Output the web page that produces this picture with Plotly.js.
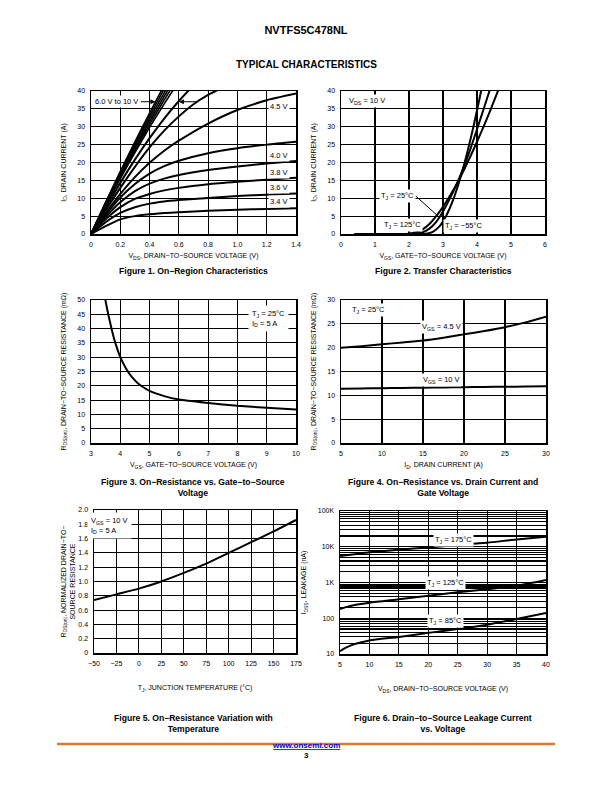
<!DOCTYPE html>
<html><head><meta charset="utf-8">
<script src="https://cdn.plot.ly/plotly-3.0.1.min.js"></script>
<style>html,body{margin:0;padding:0;background:#fff;}#chart{width:612px;height:792px;}</style>
</head><body><div id="chart"></div>
<script>
// ---------- Figure 1: On-Region Characteristics ----------
const f1Vds = [0, 0.1, 0.2, 0.3, 0.4, 0.5, 0.6, 0.8, 1.0, 1.2, 1.4];
const f1Id_3v4 = [0, 2.2, 4.1, 5.0, 5.5, 5.9, 6.1, 6.5, 6.8, 7.0, 7.2];
const f1Id_3v6 = [0, 3.3, 5.9, 7.5, 8.5, 9.1, 9.5, 10.1, 10.6, 11.0, 11.3];
const f1Id_3v8 = [0, 4.1, 7.5, 9.8, 11.2, 12.2, 12.9, 13.9, 14.6, 15.2, 15.7];
const f1Id_4v0 = [0, 4.8, 8.9, 12.0, 14.1, 15.5, 16.5, 17.9, 18.9, 19.7, 20.4];
const f1Id_4v2 = [0, 5.4, 10.2, 14.0, 16.9, 19.0, 20.5, 22.6, 24.0, 25.0, 25.8];
const f1Id_4v5 = [0, 5.8, 11.2, 15.9, 19.9, 23.3, 26.1, 30.9, 34.7, 37.4, 39.3];
const f1VdsG = [0, 0.1, 0.2, 0.3, 0.4, 0.5, 0.6, 0.7, 0.8, 0.9];
const f1Id_G = [0, 6.6, 12.9, 18.8, 24.2, 28.9, 32.9, 36.3, 38.9, 41.0];
const f1VdsH = [0, 0.1, 0.2, 0.3, 0.4, 0.5, 0.6, 0.7];
const f1Id_H = [0, 7.3, 14.3, 20.8, 26.8, 32.3, 37.2, 41.6];
const f1VdsS = [0, 0.1, 0.2, 0.3, 0.4, 0.5, 0.6];
const f1Id_6v0 = [0, 7.9, 15.5, 22.8, 29.8, 36.4, 42.7];
const f1Id_6v5 = [0, 8.1, 15.9, 23.4, 30.6, 37.5, 44.0];
const f1Id_7v0 = [0, 8.3, 16.3, 24.0, 31.4, 38.5, 45.3];
const f1Id_8v0 = [0, 8.5, 16.7, 24.6, 32.2, 39.5, 46.5];
const f1Id_9v0 = [0, 8.7, 17.1, 25.2, 33.0, 40.6, 47.8];
const f1Id_10v = [0, 8.9, 17.5, 25.8, 33.8, 41.6, 49.0];
const f1Labels = ['4.5 V', '4.0 V', '3.8 V', '3.6 V', '3.4 V'];
const f1LabelY = [35.6, 22.0, 17.3, 13.0, 9.1];
const f1XTicks = [0, 0.2, 0.4, 0.6, 0.8, 1.0, 1.2, 1.4];
const f1XTickText = ['0', '0.2', '0.4', '0.6', '0.8', '1.0', '1.2', '1.4'];

// ---------- Figure 2: Transfer Characteristics ----------
const f2Vgs_125 = [0.4, 2.0, 2.2, 2.4, 2.6, 2.8, 3.0, 3.2, 3.4, 3.6, 3.8, 4.0, 4.2, 4.4, 4.6, 4.7];
const f2Id_125  = [0, 0.1, 0.5, 1.3, 2.8, 5.0, 7.6, 10.6, 13.9, 17.6, 21.6, 25.8, 30.2, 34.8, 39.6, 42.0];
const f2Vgs_25  = [0.4, 2.2, 2.4, 2.6, 2.8, 3.0, 3.2, 3.4, 3.6, 3.8, 4.0, 4.2, 4.4];
const f2Id_25   = [0, 0.1, 0.5, 1.5, 3.4, 6.3, 9.9, 13.9, 18.5, 23.6, 29.3, 35.1, 41.0];
const f2Vgs_m55 = [0.4, 2.5, 2.7, 2.9, 3.1, 3.3, 3.5, 3.7, 3.9, 4.1, 4.2];
const f2Id_m55  = [0, 0.1, 0.6, 2.2, 5.2, 9.6, 15.4, 22.3, 30.2, 39.0, 43.6];

// ---------- Figure 3: RDS(on) vs VGS ----------
const f3Vgs = [3.49, 3.6, 3.7, 3.8, 3.9, 4.0, 4.2, 4.4, 4.6, 4.8, 5.0, 5.5, 6, 7, 8, 9, 10];
const f3Rds = [50, 44.5, 40.0, 36.0, 32.8, 30.0, 26.0, 23.0, 20.9, 19.4, 18.2, 16.4, 15.2, 14.0, 13.0, 12.3, 11.7];

// ---------- Figure 4: RDS(on) vs ID ----------
const f4Id = [5, 7.5, 10, 12.5, 15, 17.5, 20, 22.5, 25, 27.5, 30];
const f4Rds_4v5 = [20.0, 20.3, 20.7, 21.1, 21.5, 22.1, 22.8, 23.5, 24.3, 25.3, 26.5];
const f4Rds_10v = [11.4, 11.45, 11.5, 11.55, 11.6, 11.65, 11.7, 11.75, 11.8, 11.85, 11.9];

// ---------- Figure 5: normalized RDS(on) vs TJ ----------
const f5Tj = [-50, -25, 0, 25, 50, 75, 100, 125, 150, 175];
const f5Rn = [0.74, 0.82, 0.90, 1.00, 1.12, 1.25, 1.40, 1.55, 1.70, 1.86];
const f5XTicks = [-50, -25, 0, 25, 50, 75, 100, 125, 150, 175];
const f5YTicks = [0, 0.2, 0.4, 0.6, 0.8, 1.0, 1.2, 1.4, 1.6, 1.8, 2.0];
const f5YTickText = ['0', '0.2', '0.4', '0.6', '0.8', '1.0', '1.2', '1.4', '1.6', '1.8', '2.0'];

// ---------- Figure 6: IDSS vs VDS ----------
const f6Vds = [5, 6, 7.5, 10, 15, 20, 25, 30, 35, 40];
const f6I_175 = [5500, 5800, 6200, 7000, 8300, 9600, 11200, 13000, 16000, 19000];
const f6I_125 = [182, 205, 235, 273, 340, 427, 530, 645, 815, 1180];
const f6I_85  = [12, 15, 19, 24, 30, 39, 50, 66, 95, 140];
const f6YTicks = [10, 100, 1000, 10000, 100000];
const f6YTickText = ['10', '100', '1K', '10K', '100K'];

// ---------- layout helpers ----------
const W = 612, H = 792;
const FONT = 'Liberation Sans, Arial, Helvetica, sans-serif';
const dx = (a, b) => [a / W, b / W];
const dy = (t, b) => [1 - b / H, 1 - t / H];
function ax(dom, range, extra) {
  return Object.assign({
    domain: dom, range: range, showline: true, linecolor: '#000', linewidth: 1.5, mirror: true,
    showgrid: true, gridcolor: '#000', gridwidth: 1.1, zeroline: false,
    ticks: 'outside', ticklen: 3, tickcolor: 'rgba(0,0,0,0)',
    tickfont: {family: FONT, size: 7, color: '#000'}, fixedrange: true
  }, extra || {});
}
function ttl(text, standoff) {
  return {text: text, font: {family: FONT, size: 7, color: '#000'}, standoff: standoff};
}
function tr(x, y, xa, ya, w) {
  return {x: x, y: y, xaxis: xa, yaxis: ya, type: 'scatter', mode: 'lines',
          line: {color: '#000', width: w || 2, shape: 'spline', smoothing: 0.6}, hoverinfo: 'skip', showlegend: false};
}

const data = [
  tr(f1Vds, f1Id_3v4, 'x', 'y'), tr(f1Vds, f1Id_3v6, 'x', 'y'), tr(f1Vds, f1Id_3v8, 'x', 'y'),
  tr(f1Vds, f1Id_4v0, 'x', 'y'), tr(f1Vds, f1Id_4v2, 'x', 'y'), tr(f1Vds, f1Id_4v5, 'x', 'y'),
  tr(f1VdsG, f1Id_G, 'x', 'y'), tr(f1VdsH, f1Id_H, 'x', 'y'),
  tr(f1VdsS, f1Id_6v0, 'x', 'y', 1.6), tr(f1VdsS, f1Id_6v5, 'x', 'y', 1.6), tr(f1VdsS, f1Id_7v0, 'x', 'y', 1.6),
  tr(f1VdsS, f1Id_8v0, 'x', 'y', 1.6), tr(f1VdsS, f1Id_9v0, 'x', 'y', 1.6), tr(f1VdsS, f1Id_10v, 'x', 'y', 1.6),
  tr(f2Vgs_125, f2Id_125, 'x2', 'y2'), tr(f2Vgs_25, f2Id_25, 'x2', 'y2'), tr(f2Vgs_m55, f2Id_m55, 'x2', 'y2'),
  tr(f3Vgs, f3Rds, 'x3', 'y3'),
  tr(f4Id, f4Rds_4v5, 'x4', 'y4'), tr(f4Id, f4Rds_10v, 'x4', 'y4'),
  tr(f5Tj, f5Rn, 'x5', 'y5'),
  tr(f6Vds, f6I_175, 'x6', 'y6'), tr(f6Vds, f6I_125, 'x6', 'y6'), tr(f6Vds, f6I_85, 'x6', 'y6')
];

const ANF = {family: FONT, size: 7.5, color: '#000'};
function lab(text, x, y, xr, yr, opts) {
  return Object.assign({text: text, x: x, y: y, xref: xr, yref: yr, showarrow: false,
    font: ANF, bgcolor: '#fff', borderpad: 1}, opts || {});
}
function cap(text, x, y) {
  return {text: '<b>' + text + '</b>', x: x / W, y: 1 - y / H, xref: 'paper', yref: 'paper',
    showarrow: false, font: {family: FONT, size: 8.6, color: '#000'}, xanchor: 'center', yanchor: 'middle'};
}

const annotations = [
  // figure 1
  lab('6.0 V to 10 V', 0.175, 37, 'x', 'y'),
  {x: 0.44, y: 37, ax: 0.33, ay: 37, axref: 'x', ayref: 'y', xref: 'x', yref: 'y', text: '', showarrow: true,
   arrowhead: 2, arrowsize: 1, arrowwidth: 1, arrowcolor: '#000'},
  {x: 0.60, y: 37, ax: 0.74, ay: 37, axref: 'x', ayref: 'y', xref: 'x', yref: 'y', text: '', showarrow: true,
   arrowhead: 2, arrowsize: 1, arrowwidth: 1, arrowcolor: '#000'},
  ...f1Labels.map((t, i) => lab(t, 1.287, f1LabelY[i], 'x', 'y')),
  // figure 2
  lab('V<sub>DS</sub> = 10 V', 0.75, 37.3, 'x2', 'y2'),
  {x: 2.88, y: 4.8, ax: 2.2, ay: 10.6, axref: 'x2', ayref: 'y2', xref: 'x2', yref: 'y2',
   text: 'T<sub>J</sub> = 25°C', showarrow: true, arrowhead: 0, arrowwidth: 1, arrowcolor: '#000',
   font: ANF, bgcolor: '#fff', borderpad: 1, xanchor: 'right', standoff: 0},
  lab('T<sub>J</sub> = 125°C', 1.8, 2.6, 'x2', 'y2'),
  lab('T<sub>J</sub> = −55°C', 3.6, 2.1, 'x2', 'y2'),
  // figure 3
  lab('T<sub>J</sub> = 25°C<br>I<sub>D</sub> = 5 A', 9.05, 43.5, 'x3', 'y3', {align: 'left', borderpad: 3}),
  // figure 4
  lab('T<sub>J</sub> = 25°C', 8.3, 27.9, 'x4', 'y4'),
  lab('V<sub>GS</sub> = 4.5 V', 17.2, 24.3, 'x4', 'y4'),
  lab('V<sub>GS</sub> = 10 V', 17.2, 13.3, 'x4', 'y4'),
  // figure 5
  lab('V<sub>GS</sub> = 10 V<br>I<sub>D</sub> = 5 A', -33, 1.78, 'x5', 'y5', {align: 'left', borderpad: 3}),
  // figure 6
  lab('T<sub>J</sub> = 175°C', 24.3, Math.log10(15500), 'x6', 'y6'),
  lab('T<sub>J</sub> = 125°C', 22.9, Math.log10(1000), 'x6', 'y6'),
  lab('T<sub>J</sub> = 85°C', 22.9, Math.log10(86), 'x6', 'y6'),
  // page texts
  {text: '<b>TYPICAL CHARACTERISTICS</b>', x: 0.5, y: 1 - 57 / H, xref: 'paper', yref: 'paper', showarrow: false,
   font: {family: FONT, size: 10, color: '#000'}},
  cap('Figure 1. On−Region Characteristics', 193, 271),
  cap('Figure 2. Transfer Characteristics', 443, 271),
  cap('Figure 3. On−Resistance vs. Gate−to−Source<br>Voltage', 193, 487),
  cap('Figure 4. On−Resistance vs. Drain Current and<br>Gate Voltage', 443, 487),
  cap('Figure 5. On−Resistance Variation with<br>Temperature', 193, 723),
  cap('Figure 6. Drain−to−Source Leakage Current<br>vs. Voltage', 443, 723),
  {text: '<b><u>www.onsemi.com</u></b>', x: 0.5, y: 1 - 752 / H, xref: 'paper', yref: 'paper', showarrow: false,
   font: {family: FONT, size: 8, color: '#0000ee'}},
  {text: '<b>3</b>', x: 0.5, y: 1 - 762 / H, xref: 'paper', yref: 'paper', showarrow: false,
   font: {family: FONT, size: 8, color: '#000'}}
];

const layout = {
  width: W, height: H, margin: {l: 0, r: 0, t: 0, b: 0}, paper_bgcolor: '#fff', plot_bgcolor: '#fff',
  showlegend: false, font: {family: FONT, color: '#000'},
  title: {text: '<b>NVTFS5C478NL</b>', x: 0.5, xanchor: 'center', y: 1 - 30 / H, yanchor: 'middle',
          font: {family: FONT, size: 11, color: '#000'}},
  xaxis:  ax(dx(91, 296), [0, 1.4], {anchor: 'y', tickvals: f1XTicks, ticktext: f1XTickText,
           title: ttl('V<sub>DS</sub>, DRAIN−TO−SOURCE VOLTAGE (V)', 6)}),
  yaxis:  ax(dy(91, 234), [0, 40], {anchor: 'x', dtick: 5, title: ttl('I<sub>D</sub>, DRAIN CURRENT (A)', 10)}),
  xaxis2: ax(dx(341, 545), [0, 6], {anchor: 'y2', dtick: 1,
           title: ttl('V<sub>GS</sub>, GATE−TO−SOURCE VOLTAGE (V)', 6)}),
  yaxis2: ax(dy(91, 234), [0, 40], {anchor: 'x2', dtick: 5, title: ttl('I<sub>D</sub>, DRAIN CURRENT (A)', 10)}),
  xaxis3: ax(dx(91, 296), [3, 10], {anchor: 'y3', dtick: 1,
           title: ttl('V<sub>GS</sub>, GATE−TO−SOURCE VOLTAGE (V)', 6)}),
  yaxis3: ax(dy(300, 443), [0, 50], {anchor: 'x3', dtick: 5,
           title: ttl('R<sub>DS(on)</sub>, DRAIN−TO−SOURCE RESISTANCE (mΩ)', 10)}),
  xaxis4: ax(dx(341, 546), [5, 30], {anchor: 'y4', dtick: 5, title: ttl('I<sub>D</sub>, DRAIN CURRENT (A)', 6)}),
  yaxis4: ax(dy(300, 443), [0, 30], {anchor: 'x4', dtick: 5,
           title: ttl('R<sub>DS(on)</sub>, DRAIN−TO−SOURCE RESISTANCE (mΩ)', 10)}),
  xaxis5: ax(dx(94, 296), [-50, 175], {anchor: 'y5', tickvals: f5XTicks,
           title: ttl('T<sub>J</sub>, JUNCTION TEMPERATURE (°C)', 19)}),
  yaxis5: ax(dy(510, 653), [0, 2], {anchor: 'x5', tickvals: f5YTicks, ticktext: f5YTickText,
           title: ttl('R<sub>DS(on)</sub>, NORMALIZED DRAIN−TO−<br>SOURCE RESISTANCE', 2)}),
  xaxis6: ax(dx(340, 546), [5, 40], {anchor: 'y6', dtick: 5,
           title: ttl('V<sub>DS</sub>, DRAIN−TO−SOURCE VOLTAGE (V)', 19)}),
  yaxis6: ax(dy(511, 654), [1, 5], {anchor: 'x6', type: 'log', tickvals: f6YTicks, ticktext: f6YTickText,
           minor: {dtick: 'D1', showgrid: true, gridcolor: '#000', gridwidth: 1.1, ticks: ''},
           title: ttl('I<sub>DSS</sub>, LEAKAGE (nA)', 10)}),
  annotations: annotations,
  shapes: [{type: 'line', xref: 'paper', yref: 'paper', x0: 57 / W, x1: 555 / W, y0: 1 - 744 / H, y1: 1 - 744 / H,
            line: {color: '#d9792f', width: 2.5}}]
};

Plotly.newPlot('chart', data, layout, {staticPlot: true, displayModeBar: false});
</script></body></html>
